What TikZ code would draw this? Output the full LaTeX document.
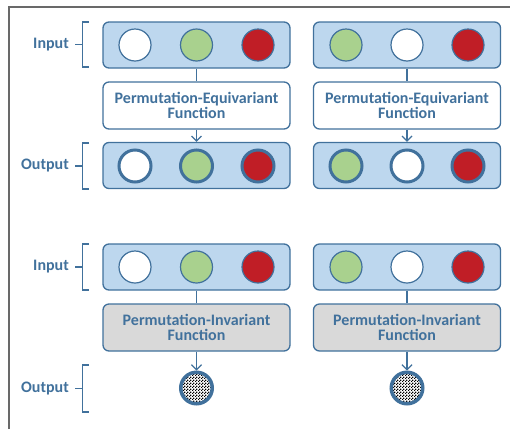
\documentclass[tikz,border=0pt]{standalone}
\usepackage{fontspec}
\setmainfont{Carlito}
\usetikzlibrary{arrows.meta,patterns}
\definecolor{bl}{RGB}{65,113,156}
\definecolor{boxfill}{RGB}{189,215,238}
\definecolor{grn}{RGB}{169,209,142}
\definecolor{rd}{RGB}{192,30,38}
\definecolor{gry}{RGB}{217,217,217}
\definecolor{framec}{RGB}{105,105,105}
\pgfdeclarepatternformonly{finecheck}{\pgfpointorigin}{\pgfqpoint{3pt}{3pt}}{\pgfqpoint{3pt}{3pt}}{%
  \pgfpathrectangle{\pgfpointorigin}{\pgfqpoint{1.5pt}{1.5pt}}%
  \pgfpathrectangle{\pgfqpoint{1.5pt}{1.5pt}}{\pgfqpoint{1.5pt}{1.5pt}}%
  \pgfusepath{fill}}
\tikzset{
  setbox/.style={draw=bl, fill=boxfill, line width=1.3pt, rounded corners=6pt,
    minimum width=187pt, minimum height=46pt, inner sep=0pt},
  fnbox/.style={draw=bl, fill=white, line width=1.3pt, rounded corners=6pt,
    minimum width=187pt, minimum height=47pt, inner sep=0pt, align=center, text=bl,
    font=\bfseries\fontsize{16}{15.6}\selectfont},
  invbox/.style={fnbox, fill=gry},
  incirc/.style={circle, draw=bl, line width=1.2pt, minimum size=32pt, inner sep=0pt},
  outcirc/.style={circle, draw=bl, line width=3pt, minimum size=32pt, inner sep=0pt},
  rescirc/.style={circle, draw=bl, line width=3.5pt, minimum size=31.5pt, inner sep=0pt,
    pattern=finecheck, pattern color=black},
  conn/.style={draw=bl, line width=1.2pt},
  arr/.style={conn, -{Straight Barb[length=5pt,width=10pt,line width=1.2pt]}},
  lbl/.style={text=bl, anchor=east, inner sep=0pt, font=\bfseries\fontsize{16}{16}\selectfont},
  brk/.style={draw=bl, line width=1.3pt}
}
\begin{document}
\begin{tikzpicture}[x=1pt,y=-1pt]
\useasboundingbox (0,0) rectangle (510,429);
\draw[framec, line width=1.2pt] (9,429) -- (9,7) -- (510,7);

% brackets and labels
\foreach \t/\b/\name/\txt in {22/67/li1/Input, 143/189/lo1/Output, 244/290/li2/Input, 365/412/lo2/Output}{
  \pgfmathsetmacro{\c}{(\t+\b)/2}
  \draw[brk] (89,\t) -- (82.5,\t) -- (82.5,\b) -- (89,\b);
  \draw[brk] (75,\c) -- (82.5,\c);
  \node[lbl] (\name) at (69,\c) {\txt};
}

% ---------- top: equivariant ----------
\node[setbox] (in1) at (196.5,45) {};
\node[incirc, fill=white] (in1a) at (135,45) {};
\node[incirc, fill=grn]   (in1b) at (196.5,45) {};
\node[incirc, fill=rd]    (in1c) at (258,45) {};
\node[fnbox] (f1) at (196.5,105.5) {Permutation-Equivariant\\Function};
\node[setbox] (o1) at (196.5,165.5) {};
\node[outcirc, fill=white] (o1a) at (135,166) {};
\node[outcirc, fill=grn]   (o1b) at (196.5,166) {};
\node[outcirc, fill=rd]    (o1c) at (258,166) {};
\draw[conn] (in1.south) -- (f1.north);
\draw[arr] (f1.south) -- (o1.north);

\node[setbox] (in2) at (407,45) {};
\node[incirc, fill=grn]   (in2a) at (346,45) {};
\node[incirc, fill=white] (in2b) at (407,45) {};
\node[incirc, fill=rd]    (in2c) at (468,45) {};
\node[fnbox] (f2) at (407,105.5) {Permutation-Equivariant\\Function};
\node[setbox] (o2) at (407,165.5) {};
\node[outcirc, fill=grn]   (o2a) at (346,166) {};
\node[outcirc, fill=white] (o2b) at (407,166) {};
\node[outcirc, fill=rd]    (o2c) at (468,166) {};
\draw[conn] (in2.south) -- (f2.north);
\draw[arr] (f2.south) -- (o2.north);

% ---------- bottom: invariant ----------
\node[setbox] (in3) at (196.5,267) {};
\node[incirc, fill=white] (in3a) at (135,267) {};
\node[incirc, fill=grn]   (in3b) at (196.5,267) {};
\node[incirc, fill=rd]    (in3c) at (258,267) {};
\node[invbox] (f3) at (196.5,327.5) {Permutation-Invariant\\Function};
\node[rescirc] (r3) at (196.5,388) {};
\draw[conn] (in3.south) -- (f3.north);
\draw[arr] (f3.south) -- (r3.north);

\node[setbox] (in4) at (407,267) {};
\node[incirc, fill=grn]   (in4a) at (346,267) {};
\node[incirc, fill=white] (in4b) at (407,267) {};
\node[incirc, fill=rd]    (in4c) at (468,267) {};
\node[invbox] (f4) at (407,327.5) {Permutation-Invariant\\Function};
\node[rescirc] (r4) at (407,388) {};
\draw[conn] (in4.south) -- (f4.north);
\draw[arr] (f4.south) -- (r4.north);
\end{tikzpicture}
\end{document}
